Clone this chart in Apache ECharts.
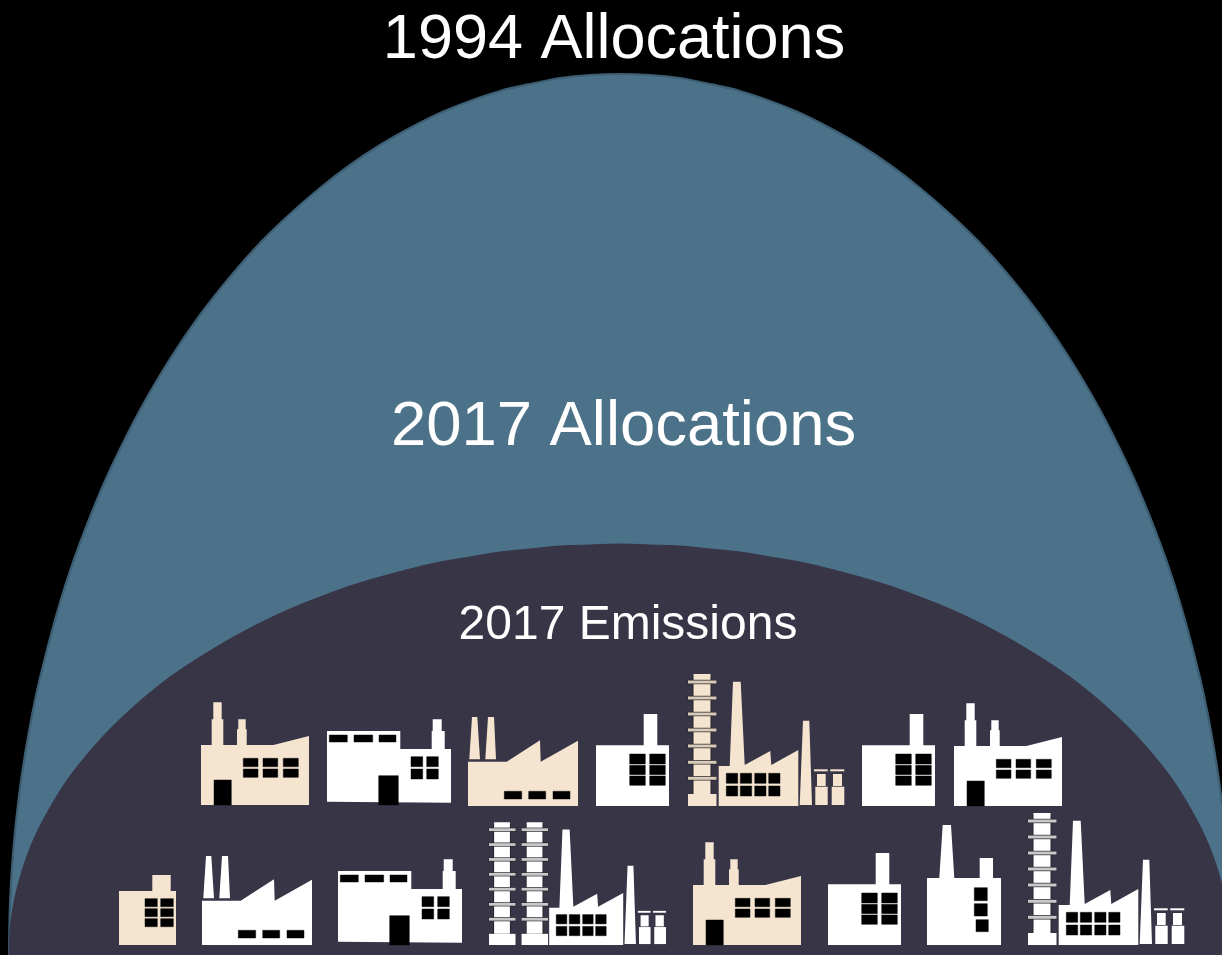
<!DOCTYPE html>
<html>
<head>
<meta charset="utf-8">
<style>html,body{margin:0;padding:0;background:#000}#c{width:1222px;height:955px}</style>
<script src="https://cdn.jsdelivr.net/npm/echarts@6/dist/echarts.min.js"></script>
</head>
<body>
<div id="c"></div>
<script>
// Curves
const domeX = [9,10,12,16,22,30,40,55,70,90,110,140,170,200,230,260,290,320,350,380,410,440,470,500,530,560,590,620,650,680,710,740,770,800,830,860,890,920,950,980,1010,1040,1070,1100,1130,1150,1170,1185,1200,1210,1218,1222];
const allocations1994Y = [0,50,87,133,181,229,277,335,384,438,485,545,596,640,678,712,741,767,790,810,827,842,854,864,871,877,880,881,880,877,871,864,854,842,827,810,790,767,741,712,678,640,596,545,485,438,384,335,277,229,181,151];
const emissions2017Y = [0,23,41,62,84,107,129,156,179,204,226,254,278,298,316,332,346,358,369,378,386,393,398,403,406,409,410,411,410,409,406,403,398,393,386,378,369,358,346,332,316,298,278,254,226,204,179,156,129,107,84,70];

const labelTexts = ['1994 Allocations','2017 Allocations','2017 Emissions'];

// Factories in the picture, row 1 then row 2
const factoryKinds = ['office','block','saw','chimney','plant','chimney','office','smallChimney','saw','block','twinPlant','office','chimney','tallStack','plant'];
const factoryTints = ['cream','white','cream','white','cream','white','white','cream','white','white','white','cream','white','white','white'];

// ---- layout & styling ----
const factoryLeft = [201,327,468,596,688,862,954,119,202,338,489,693,828,927,1028];
const factoryBase = [150,150,149,149,149,149,149,10,10,10,10,10,10,10,10];
const factoryZoom = [1,1,1,1,1,1,1,1,1,1,0.93,1,1,1,1];
const tints = {cream:{body:'#f5e4d0',ring:'#d8ccb8',edge:'#27242c'},white:{body:'#ffffff',ring:'#c9c9c9',edge:'#27242c'}};
const BLACK = '#000000';
const rect = (x0,y0,x1,y1,fill) => ({fill,pts:[[x0,y0],[x1,y0],[x1,y1],[x0,y1]]});
const grid2 = (xs,ys) => xs.flatMap(x => ys.map(y => rect(x[0],y[0],x[1],y[1],BLACK)));
const body = pts => ({fill:'body',pts});

const towerParts = dx => {
  const out = [];
  out.push(rect(dx+4.5,12,dx+23.5,130,'edge'));
  out.push(rect(dx+5.5,12,dx+22.5,132,'body'));
  out.push(rect(dx,0,dx+28.5,12,'body'));
  [124,108,92,76,60,43.7,27.7].forEach(y => {
    out.push(rect(dx-0.5,y-2.2,dx+29,y+2.2,'edge'));
    out.push(rect(dx,y-1.5,dx+28.5,y+1.5,'ring'));
  });
  return out;
};
const plantParts = dx => [
  body([[30.7,0],[30.7,40],[41.7,40],[45,124.3],[52.7,124.3],[56.7,41],[82.3,55],[83.3,41],[110.3,56],[110.3,0]].map(p=>[p[0]+dx,p[1]])),
  ...grid2([[38.3,49.7],[52.3,63.7],[66.7,78],[80.7,92]].map(a=>[a[0]+dx,a[1]+dx]),[[10,20],[22.7,32.7]]),
  body([[111.7,1],[115,85.3],[121.3,85.3],[124,1]].map(p=>[p[0]+dx,p[1]])),
  rect(dx+127.3,1,dx+139.7,19.3,'body'), rect(dx+143.7,1,dx+156.3,19.3,'body'),
  rect(dx+129,20,dx+137.7,32,'body'), rect(dx+145,20,dx+154,32,'body'),
  rect(dx+126,34.7,dx+139.7,36.7,'body'), rect(dx+142.3,34.7,dx+156.3,36.7,'body')
];
const glyphs = {
  office:[
    body([[0,0],[0,60],[10.7,60],[10.7,85.7],[12.3,85.7],[12.3,102.7],[20.7,102.7],[20.7,85.7],[22.3,85.7],[22.3,60],[36,60],[36,75.7],[37.3,75.7],[37.3,85.7],[44.7,85.7],[44.7,75.7],[45.7,75.7],[45.7,60],[72.3,60],[108,69],[108,0]]),
    ...grid2([[42.3,57],[62,76.7],[82.3,97.3]],[[27.7,36],[38.3,46.7]]),
    rect(13,0,30.3,25,BLACK)
  ],
  block:[
    body([[0,3.3],[0,74],[73.3,74],[73.3,56],[104.7,56],[104.7,74],[105.7,74],[105.7,85.7],[114.7,85.7],[114.7,74],[117.7,74],[117.7,56],[124,56],[124,2.3]]),
    ...grid2([[2.3,20.3],[27,45.7],[52,69]],[[63,70]]),
    ...grid2([[84,95.7],[99.7,111.3]],[[26,36],[38.3,48.3]]),
    rect(51.7,0,71.3,29.3,BLACK)
  ],
  saw:[
    body([[1.3,46.7],[4,89],[9.3,89],[12,46.7]]),
    body([[17.3,46.7],[20,89],[26,89],[28,46.7]]),
    body([[0,0],[0,44.3],[38.7,44.3],[72,65.7],[72.7,44.3],[110,65.3],[110,0]]),
    ...grid2([[36.3,53.7],[60.7,77.7],[85,102]],[[7,14.7]])
  ],
  chimney:[
    body([[0,0],[0,60.7],[47.7,60.7],[47.7,92],[61.3,92],[61.3,60.7],[73,60.7],[73,0]]),
    ...grid2([[33.7,49.3],[53.7,69.3]],[[20.7,30],[31.3,40.7],[42,52]])
  ],
  smallChimney:[
    body([[0,0],[0,54],[33.3,54],[33.3,70],[51.7,70],[51.7,54],[57,54],[57,0]]),
    ...grid2([[26,38.3],[41.7,54.3]],[[18.3,26.3],[28.3,36.3],[38.3,46.3]])
  ],
  tallStack:[
    body([[0,0],[0,67],[12.3,67],[15.7,120],[24,120],[27.3,67],[52.7,67],[52.7,87],[66,87],[66,67],[74,67],[74,0]]),
    rect(47.3,44.3,60.3,57.3,BLACK), rect(47.3,29,60.3,41.3,BLACK), rect(49,13.3,61.3,25.3,BLACK)
  ],
  plant:[...towerParts(0),...plantParts(0)],
  twinPlant:[...towerParts(0),...towerParts(35),...plantParts(34)]
};

const zipXY = (xs,ys) => xs.map((x,i)=>[x,ys[i]]);
const factoryData = factoryKinds.map((k,i)=>[factoryLeft[i],factoryBase[i],factoryZoom[i],i]);

function renderFactory(params, api){
  const i = api.value(3), x0 = api.value(0), y0 = api.value(1), z = api.value(2);
  const tint = tints[factoryTints[i]];
  const children = glyphs[factoryKinds[i]].map(part => {
    const isWindow = part.fill === BLACK;
    return {
      type:'polygon',
      shape:{points:part.pts.map(p => api.coord([x0+p[0]*z, y0+p[1]*z]))},
      style: isWindow
        ? {fill:BLACK,stroke:'rgba(0,0,0,0.45)',lineWidth:1}
        : {fill: tint[part.fill]}
    };
  });
  return {type:'group',children};
}

const chart = echarts.init(document.getElementById('c'),null,{renderer:'canvas'});
chart.setOption({
  animation:false,
  backgroundColor:'#000000',
  grid:{left:0,right:0,top:0,bottom:0},
  xAxis:{type:'value',min:0,max:1222,show:false},
  yAxis:{type:'value',min:0,max:955,show:false},
  title:[
    {text:labelTexts[0],left:609,top:4,textAlign:'center',textStyle:{color:'#fff',fontFamily:'Liberation Sans',fontSize:63,fontWeight:'normal'}},
    {text:labelTexts[1],left:618.5,top:391,textAlign:'center',textStyle:{color:'#fff',fontFamily:'Liberation Sans',fontSize:63.4,fontWeight:'normal'}},
    {text:labelTexts[2],left:623,top:597,textAlign:'center',textStyle:{color:'#fff',fontFamily:'Liberation Sans',fontSize:48,fontWeight:'normal'}}
  ],
  series:[
    {type:'line',name:labelTexts[0],data:zipXY(domeX,allocations1994Y),smooth:0.3,showSymbol:false,
      lineStyle:{color:'#3c5d72',width:2.2},areaStyle:{color:'#4b7288',opacity:1},z:1},
    {type:'line',name:labelTexts[2],data:zipXY(domeX,emissions2017Y),smooth:0.3,showSymbol:false,
      lineStyle:{color:'#383547',width:1},areaStyle:{color:'#383547',opacity:1},z:2},
    {type:'custom',data:factoryData,renderItem:renderFactory,encode:{x:0,y:1},clip:false,z:3}
  ]
});
</script>
</body>
</html>
